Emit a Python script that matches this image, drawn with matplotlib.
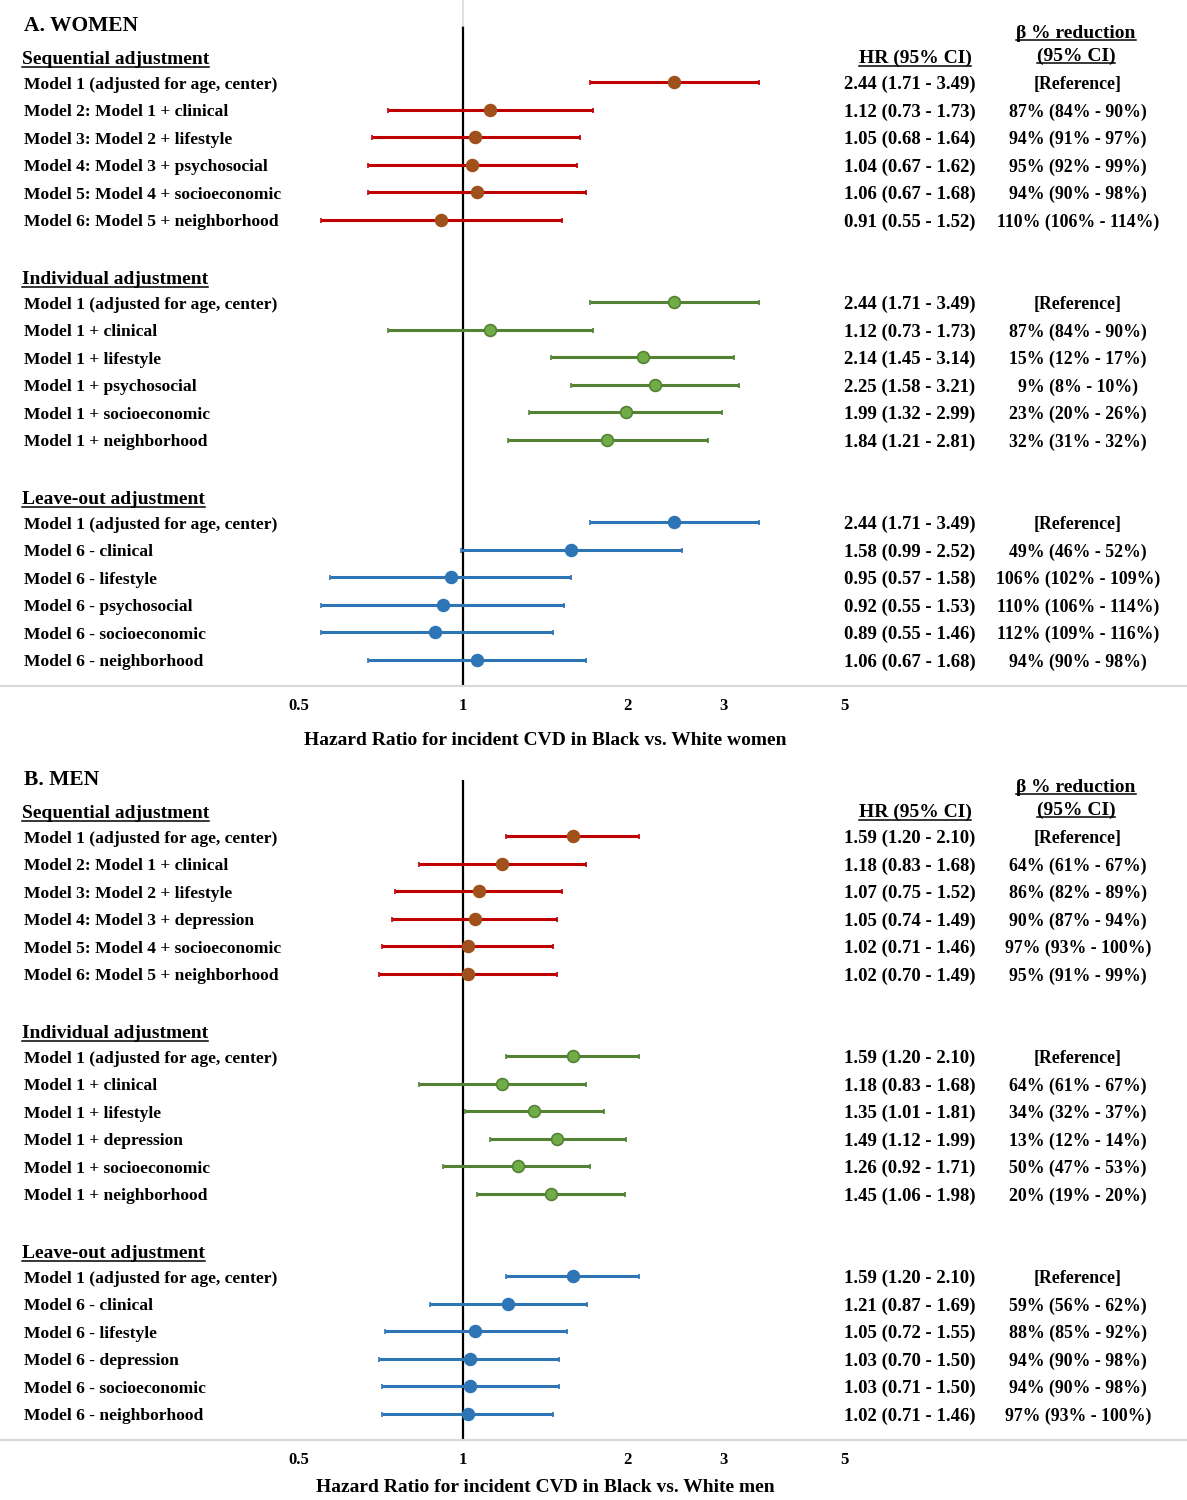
import numpy as np
import matplotlib
matplotlib.use("Agg")
import matplotlib.pyplot as plt
from matplotlib.lines import Line2D

# ---------------- DATA ----------------
group_names = ["Sequential adjustment", "Individual adjustment", "Leave-out adjustment"]

w_labels = [
    ["Model 1 (adjusted for age, center)", "Model 2: Model 1 + clinical", "Model 3: Model 2 + lifestyle",
     "Model 4: Model 3 + psychosocial", "Model 5: Model 4 + socioeconomic", "Model 6: Model 5 + neighborhood"],
    ["Model 1 (adjusted for age, center)", "Model 1 + clinical", "Model 1 + lifestyle",
     "Model 1 + psychosocial", "Model 1 + socioeconomic", "Model 1 + neighborhood"],
    ["Model 1 (adjusted for age, center)", "Model 6 - clinical", "Model 6 - lifestyle",
     "Model 6 - psychosocial", "Model 6 - socioeconomic", "Model 6 - neighborhood"],
]
w_hr = [[2.44, 1.12, 1.05, 1.04, 1.06, 0.91],
        [2.44, 1.12, 2.14, 2.25, 1.99, 1.84],
        [2.44, 1.58, 0.95, 0.92, 0.89, 1.06]]
w_lo = [[1.71, 0.73, 0.68, 0.67, 0.67, 0.55],
        [1.71, 0.73, 1.45, 1.58, 1.32, 1.21],
        [1.71, 0.99, 0.57, 0.55, 0.55, 0.67]]
w_hi = [[3.49, 1.73, 1.64, 1.62, 1.68, 1.52],
        [3.49, 1.73, 3.14, 3.21, 2.99, 2.81],
        [3.49, 2.52, 1.58, 1.53, 1.46, 1.68]]
w_beta = [["[Reference]", "87% (84% - 90%)", "94% (91% - 97%)", "95% (92% - 99%)", "94% (90% - 98%)", "110% (106% - 114%)"],
          ["[Reference]", "87% (84% - 90%)", "15% (12% - 17%)", "9% (8% - 10%)", "23% (20% - 26%)", "32% (31% - 32%)"],
          ["[Reference]", "49% (46% - 52%)", "106% (102% - 109%)", "110% (106% - 114%)", "112% (109% - 116%)", "94% (90% - 98%)"]]

m_labels = [
    ["Model 1 (adjusted for age, center)", "Model 2: Model 1 + clinical", "Model 3: Model 2 + lifestyle",
     "Model 4: Model 3 + depression", "Model 5: Model 4 + socioeconomic", "Model 6: Model 5 + neighborhood"],
    ["Model 1 (adjusted for age, center)", "Model 1 + clinical", "Model 1 + lifestyle",
     "Model 1 + depression", "Model 1 + socioeconomic", "Model 1 + neighborhood"],
    ["Model 1 (adjusted for age, center)", "Model 6 - clinical", "Model 6 - lifestyle",
     "Model 6 - depression", "Model 6 - socioeconomic", "Model 6 - neighborhood"],
]
m_hr = [[1.59, 1.18, 1.07, 1.05, 1.02, 1.02],
        [1.59, 1.18, 1.35, 1.49, 1.26, 1.45],
        [1.59, 1.21, 1.05, 1.03, 1.03, 1.02]]
m_lo = [[1.20, 0.83, 0.75, 0.74, 0.71, 0.70],
        [1.20, 0.83, 1.01, 1.12, 0.92, 1.06],
        [1.20, 0.87, 0.72, 0.70, 0.71, 0.71]]
m_hi = [[2.10, 1.68, 1.52, 1.49, 1.46, 1.49],
        [2.10, 1.68, 1.81, 1.99, 1.71, 1.98],
        [2.10, 1.69, 1.55, 1.50, 1.50, 1.46]]
m_beta = [["[Reference]", "64% (61% - 67%)", "86% (82% - 89%)", "90% (87% - 94%)", "97% (93% - 100%)", "95% (91% - 99%)"],
          ["[Reference]", "64% (61% - 67%)", "34% (32% - 37%)", "13% (12% - 14%)", "50% (47% - 53%)", "20% (19% - 20%)"],
          ["[Reference]", "59% (56% - 62%)", "88% (85% - 92%)", "94% (90% - 98%)", "94% (90% - 98%)", "97% (93% - 100%)"]]

xticks = [0.5, 1, 2, 3, 5]
xtick_labels = ["0.5", "1", "2", "3", "5"]

# ---------------- STYLE ----------------
W, H = 1187, 1500
FONT = "Liberation Serif"
plt.rcParams['font.family'] = [FONT, 'DejaVu Serif']
plt.rcParams['font.weight'] = 'bold'

line_cols = ["#C00000", "#548235", "#2E75B6"]
face_cols = ["#A0501A", "#70AD47", "#2E75B6"]
edge_cols = ["#A0501A", "#548235", "#2E75B6"]

fig = plt.figure(figsize=(W / 100, H / 100), dpi=100)

ROW = 27.5
XMIN = 10 ** (-463 / 545.4)
XMAX = 10 ** ((W - 463) / 545.4)
TXT_SHIFT = 0.1


def make_panel(top_px, title, labels, hr, lo, hi, beta, xlabel, xlabel_px, gray_top):
    h_px = 686
    ax = fig.add_axes([0, 1 - (top_px + h_px) / H, 1, h_px / H])
    ax.set_xscale('log')
    ax.set_xlim(XMIN, XMAX)
    ytop = -82 / ROW
    ybot = (h_px - 82) / ROW
    ax.set_ylim(ybot, ytop)
    for s in ['top', 'left', 'right']:
        ax.spines[s].set_visible(False)
    ax.spines['bottom'].set_color('#D9D9D9')
    ax.spines['bottom'].set_linewidth(1.5)
    ax.set_yticks([])
    ax.set_xticks(xticks)
    ax.set_xticklabels(xtick_labels, fontsize=12, fontweight='bold', family=FONT)
    ax.xaxis.set_minor_locator(matplotlib.ticker.NullLocator())
    ax.tick_params(axis='x', length=0, pad=9)
    ax.patch.set_alpha(0)

    # reference line
    ax.plot([1, 1], [ybot, -2.04], color='black', lw=1.6, zorder=1, solid_capstyle='butt')
    if gray_top:
        ax.plot([1, 1], [ytop, -2.04], color='#D9D9D9', lw=1.2, zorder=1)

    tr = ax.get_yaxis_transform()
    under = []
    ax.text(24 / W, -2.05, title, transform=tr, fontsize=15.5, fontweight='bold', va='center', ha='left')
    uh = ax.text(915 / W, -0.85, "HR (95% CI)", transform=tr, fontsize=14, fontweight='bold', va='center', ha='center')
    ub1 = ax.text(1076 / W, -1.78, "β % reduction", transform=tr, fontsize=14, fontweight='bold', va='center', ha='center')
    ub2 = ax.text(1076 / W, -0.94, "(95% CI)", transform=tr, fontsize=14, fontweight='bold', va='center', ha='center')
    under += [uh, ub1, ub2]

    for g in range(3):
        base = g * 8
        gh = ax.text(22 / W, base - 0.8, group_names[g], transform=tr, fontsize=14,
                     fontweight='bold', va='center', ha='left')
        under.append(gh)
        ys = np.arange(6) + base
        h = np.array(hr[g]); l = np.array(lo[g]); u = np.array(hi[g])
        ax.errorbar(h, ys, xerr=[h - l, u - h], fmt='o', color=line_cols[g], ecolor=line_cols[g],
                    elinewidth=2.2, capsize=1.8, capthick=2, markersize=8.5,
                    markerfacecolor=face_cols[g], markeredgecolor=edge_cols[g], markeredgewidth=1.2,
                    zorder=3)
        for r in range(6):
            yt = ys[r] + TXT_SHIFT
            ax.text(24 / W, yt, labels[g][r], transform=tr, fontsize=12.6, fontweight='bold',
                    va='center', ha='left')
            ax.text(910 / W, yt, f"{hr[g][r]:.2f} ({lo[g][r]:.2f} - {hi[g][r]:.2f})", transform=tr,
                    fontsize=13.5, fontweight='bold', va='center', ha='center')
            ax.text(1078 / W, yt, beta[g][r], transform=tr, fontsize=12.8, fontweight='bold',
                    va='center', ha='center')

    fig.text(545 / W, 1 - xlabel_px / H, xlabel, fontsize=14, fontweight='bold',
             ha='center', va='center')
    return under


under_all = []
under_all += make_panel(0, "A. WOMEN", w_labels, w_hr, w_lo, w_hi, w_beta,
                        "Hazard Ratio for incident CVD in Black vs. White women", 740, True)
under_all += make_panel(754, "B. MEN", m_labels, m_hr, m_lo, m_hi, m_beta,
                        "Hazard Ratio for incident CVD in Black vs. White men", 1488, False)

renderer = fig.canvas.get_renderer()
inv = fig.transFigure.inverted()
for t in under_all:
    bb = t.get_window_extent(renderer)
    (x0, y0) = inv.transform((bb.x0, bb.y0 + 1.5))
    (x1, _) = inv.transform((bb.x1, bb.y0 + 1.5))
    fig.add_artist(Line2D([x0, x1], [y0, y0], transform=fig.transFigure, color='black', lw=1.1))

fig.savefig("out.png", dpi=100)
